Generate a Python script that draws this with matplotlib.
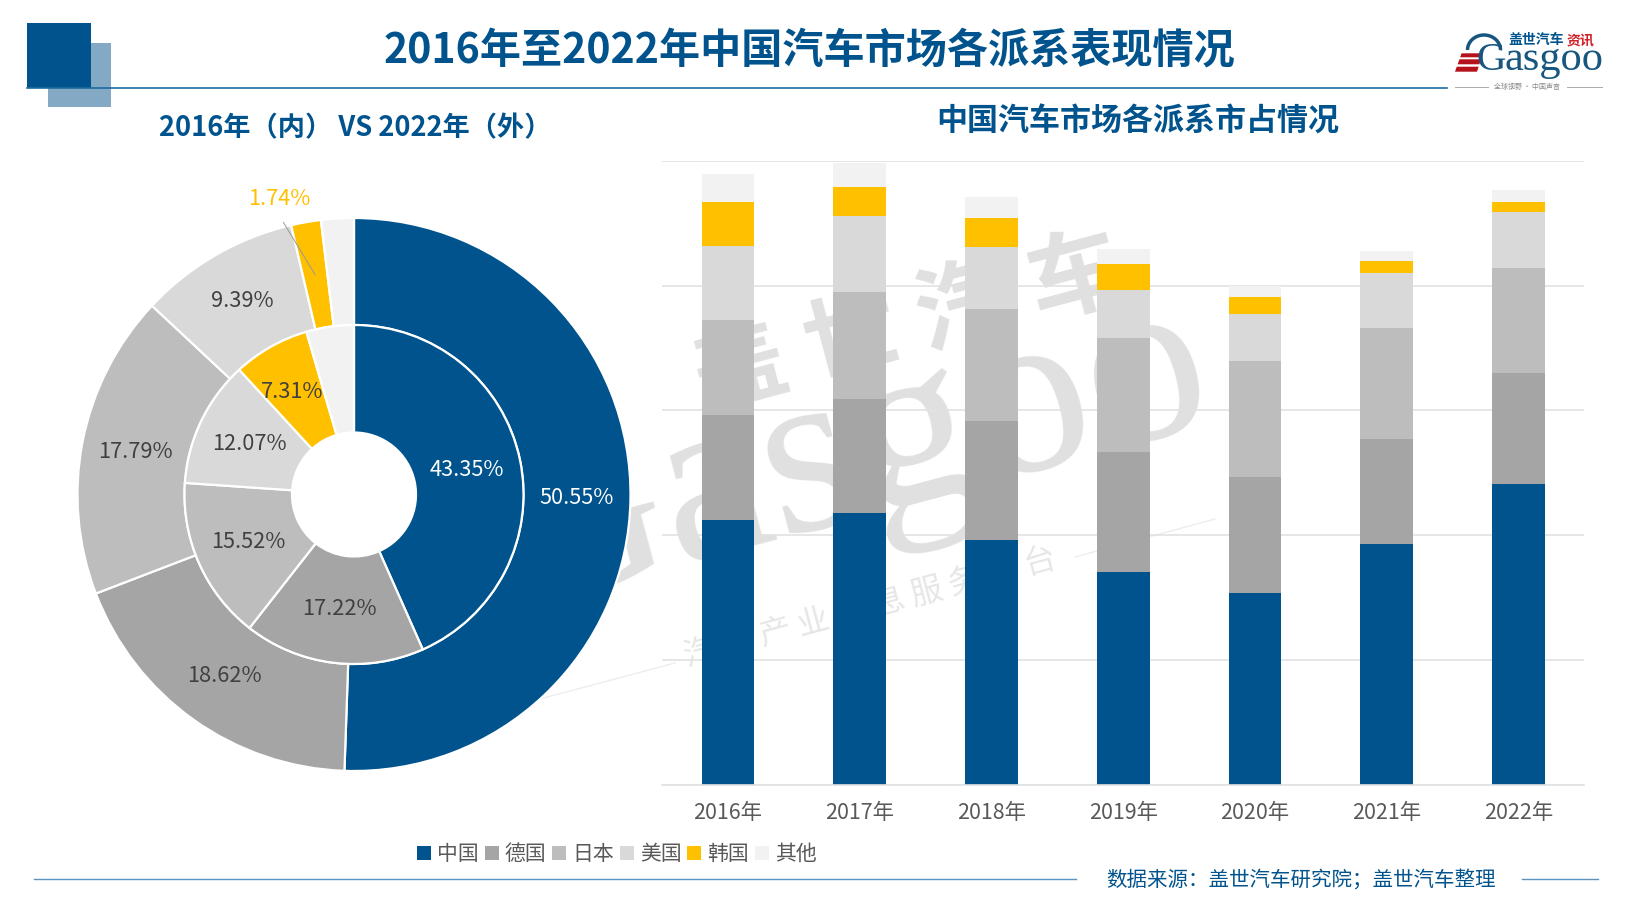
import numpy as np
import matplotlib
matplotlib.use("Agg")
import matplotlib.pyplot as plt
from matplotlib.patches import Rectangle, Polygon, Arc

plt.rcParams['font.family'] = ['Noto Sans CJK SC', 'DejaVu Sans']

W, H = 1640, 922

# ---- data ----
brands = ['中国', '德国', '日本', '美国', '韩国', '其他']
years = ['2016年', '2017年', '2018年', '2019年', '2020年', '2021年', '2022年']
china = [1061, 1088, 980, 852, 769, 964, 1204]
germany = [421, 457, 478, 482, 465, 422, 444]
japan = [380, 429, 448, 457, 465, 444, 424]
usa = [295, 304, 250, 192, 187, 219, 224]
korea = [179, 116, 116, 102, 69, 50, 40]
other = [111, 95, 84, 61, 43, 40, 47]
share_2016 = [43.35, 17.22, 15.52, 12.07, 7.31, 4.53]
share_2022 = [50.55, 18.62, 17.79, 9.39, 1.74, 1.91]
y_ticks = [0, 500, 1000, 1500, 2000, 2500]

colors = ['#00538C', '#A5A5A5', '#BDBDBD', '#D9D9D9', '#FFC000', '#F2F2F2']
BLUE = '#00538C'

fig = plt.figure(figsize=(W / 100, H / 100), dpi=100, facecolor='white')


def box(l, t, r, b):
    return [l / W, 1 - b / H, (r - l) / W, (b - t) / H]


# ---- background layer: watermark + page furniture (pixel coordinates) ----
bg = fig.add_axes([0, 0, 1, 1], zorder=0)
bg.set_xlim(0, W)
bg.set_ylim(H, 0)
bg.axis('off')

WM = '#E0E0E0'
ROT = 15
bg.text(850, 458, 'Gasgoo', family='Liberation Serif', fontsize=173, color=WM,
        rotation=ROT, ha='center', va='center', rotation_mode='anchor')
bg.text(908, 325, '盖 世 汽 车', fontsize=68, color=WM, weight='bold', rotation=ROT,
        ha='center', va='center', rotation_mode='anchor')
bg.text(870, 608, '汽 车 产 业 信 息 服 务 平 台', fontsize=23, color='#E6E6E6', rotation=ROT,
        ha='center', va='center', rotation_mode='anchor')
bg.plot([540, 675], [699, 663], color='#EDEDED', lw=1)
bg.plot([1075, 1215], [557, 519], color='#EDEDED', lw=1)

bg.add_patch(Rectangle((47.6, 43.3), 63.8, 64, color='#83A9C5', lw=0, zorder=2))
bg.add_patch(Rectangle((27, 23), 64, 65, color=BLUE, lw=0, zorder=3))
bg.plot([27, 1447], [88, 88], color='#1D6A9E', lw=1.2, zorder=4)
bg.plot([34, 1076], [878.5, 878.5], color='#5B93BE', lw=1, zorder=4)
bg.plot([1522, 1598], [878.5, 878.5], color='#5B93BE', lw=1, zorder=4)

bg.text(809, 50, '2016年至2022年中国汽车市场各派系表现情况', fontsize=29.6, weight='bold',
        color=BLUE, ha='center', va='center')
bg.text(355, 128, '2016年（内） VS 2022年（外）', fontsize=19.6, weight='bold',
        color=BLUE, ha='center', va='center')
bg.text(1138, 122, '中国汽车市场各派系市占情况', fontsize=22.3, weight='bold',
        color=BLUE, ha='center', va='center')
bg.text(1301, 880, '数据来源：盖世汽车研究院；盖世汽车整理', fontsize=14.75, color=BLUE,
        ha='center', va='center')

# logo
LOGO_RED = '#B5121B'
LOGO_BLUE = '#17567F'
for y0, y1 in [(53.3, 57.3), (59.3, 64.3), (66.7, 71.7)]:
    xl = lambda y: 1461.7 - (y - 53) * 0.36
    xr = lambda y: 1483 - (y - 53) * 0.32
    bg.add_patch(Polygon([(xl(y0), y0), (xr(y0), y0), (xr(y1), y1), (xl(y1), y1)],
                         color=LOGO_RED, lw=0))
bg.add_patch(Arc((1484, 50), 33, 30, theta1=180, theta2=360, color=LOGO_BLUE, lw=2.5))
bg.text(1506, 70, 'G', family='Liberation Serif', fontsize=29.5, color=LOGO_BLUE,
        ha='right', va='baseline')
bg.text(1505, 70, 'asgoo', family='Liberation Serif', fontsize=30.5, color=LOGO_BLUE,
        ha='left', va='baseline')
bg.text(1536, 40, '盖世汽车', fontsize=10, weight='bold', color=BLUE, ha='center', va='center')
bg.text(1580, 40, '资讯', fontsize=10, weight='bold', color='#D0202A', ha='center', va='center')
bg.text(1527, 87, '全球视野 · 中国声音', fontsize=5, color='#8A8A8A', ha='center', va='center')
bg.plot([1455, 1488], [87, 87], color='#AAAAAA', lw=0.7)
bg.plot([1567, 1602], [87, 87], color='#AAAAAA', lw=0.7)

# ---- donut ----
cx, cy, R = 354, 494.5, 276.5
half = 300
pax = fig.add_axes(box(cx - half, cy - half, cx + half, cy + half), zorder=2)
pax.patch.set_alpha(0)
pax.set_aspect('equal')
lim = half / R
r_mid = 169.5 / R
r_hole = 62 / R
pax.pie(share_2022, colors=colors, radius=1.0, startangle=90, counterclock=False,
        wedgeprops=dict(width=1.0 - r_mid, edgecolor='white', linewidth=1.6))
pax.pie(share_2016, colors=colors, radius=r_mid, startangle=90, counterclock=False,
        wedgeprops=dict(width=r_mid - r_hole, edgecolor='white', linewidth=1.6))
pax.set_xlim(-lim, lim)
pax.set_ylim(-lim, lim)


def ring_labels(values, r, skip, nudge=None):
    cum = 0.0
    total = sum(values)
    nudge = nudge or {}
    for i, v in enumerate(values):
        ang = np.deg2rad(90 - (cum + v / 2) / total * 360)
        cum += v
        x, y = r * np.cos(ang), r * np.sin(ang)
        if i in skip:
            continue
        dx, dy = nudge.get(i, (0, 0))
        pax.text(x + dx / R, y + dy / R, f'{v:.2f}%', fontsize=15.7, ha='center',
                 va='center', color='white' if i == 0 else '#404040')


ring_labels(share_2022, (1 + r_mid) / 2, {4, 5})
ring_labels(share_2016, (r_mid + r_hole) / 2, {5}, nudge={4: (-5, 1.5)})

# outer Korea label with leader
mid = (sum(share_2022[:4]) + share_2022[4] / 2) / sum(share_2022) * 360
a = np.deg2rad(90 - mid)
r_k = (1 + r_mid) / 2
pax.annotate(f'{share_2022[4]:.2f}%', xy=(r_k * np.cos(a), r_k * np.sin(a)),
             xytext=((279 - cx) / R, (cy - 199) / R), fontsize=15.7, color='#FFC000',
             ha='center', va='center',
             arrowprops=dict(arrowstyle='-', color='#999999', lw=0.7,
                             shrinkA=8, shrinkB=0, relpos=(0.45, 0)))

# ---- stacked bars ----
ax = fig.add_axes(box(662.2, 160.7, 1584.2, 784.7), zorder=1)
ax.patch.set_alpha(0)
series = [china, germany, japan, usa, korea, other]
xs = np.arange(len(years))
bottom = np.zeros(len(years))
handles = []
for vals, col, name in zip(series, colors, brands):
    h = ax.bar(xs, vals, width=0.4, bottom=bottom, color=col, label=name, linewidth=0)
    handles.append(h)
    bottom += np.array(vals)
ax.set_xlim(-0.5, 6.5)
ax.set_ylim(y_ticks[0], y_ticks[-1])
ax.set_yticks(y_ticks)
ax.set_yticklabels([])
ax.set_xticks(xs)
ax.set_xticklabels(years, fontsize=15.4, color='#595959')
ax.tick_params(axis='both', length=0)
ax.tick_params(axis='x', pad=12.5)
ax.set_axisbelow(True)
ax.grid(axis='y', color='#E2E2E2', lw=1.2)
for s in ['top', 'left', 'right']:
    ax.spines[s].set_visible(False)
ax.spines['bottom'].set_color('#E2E2E2')
ax.spines['bottom'].set_linewidth(1.2)

# ---- legend ----
leg = fig.legend(handles, brands, ncols=6, loc='center left',
                 bbox_to_anchor=(417 / W, 1 - 854 / H), frameon=False, fontsize=15,
                 labelcolor='#595959', borderpad=0, borderaxespad=0,
                 handlelength=0.67, handleheight=0.67, handletextpad=0.3,
                 columnspacing=0.27)

fig.savefig('out.png', dpi=100)
